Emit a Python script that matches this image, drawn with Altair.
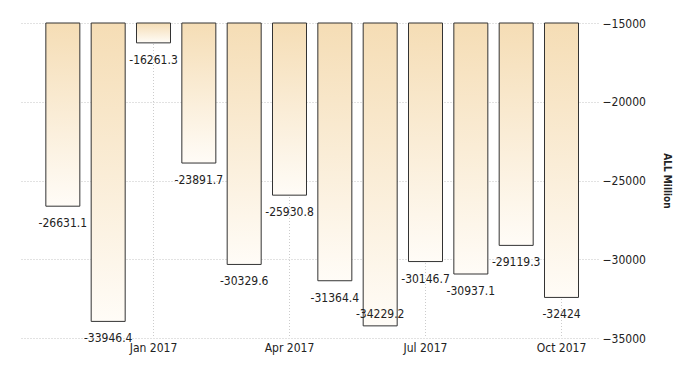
import altair as alt
import pandas as pd

months = ["Nov 2016", "Dec 2016", "Jan 2017", "Feb 2017", "Mar 2017", "Apr 2017",
          "May 2017", "Jun 2017", "Jul 2017", "Aug 2017", "Sep 2017", "Oct 2017"]
values = [-26631.1, -33946.4, -16261.3, -23891.7, -30329.6, -25930.8,
          -31364.4, -34229.2, -30146.7, -30937.1, -29119.3, -32424]
shown_labels = ["Jan 2017", "Apr 2017", "Jul 2017", "Oct 2017"]
y_ticks = [-15000, -20000, -25000, -30000, -35000]

df = pd.DataFrame({"month": months, "value": values})
df["label"] = [("%g" % v) if v != int(v) else str(int(v)) for v in values]
df["base"] = -15000
grid_df = pd.DataFrame({"month": shown_labels})

FONT = "Liberation Sans Narrow, DejaVu Sans Condensed, Liberation Sans, sans-serif"

xscale = alt.Scale(domain=months, paddingInner=0.25, paddingOuter=0.5, align=0.57)
yscale = alt.Scale(domain=[-35000, -15000], nice=False)

label_expr = "indexof(" + str(shown_labels) + ", datum.label) >= 0 ? datum.label : ''"

x_axis = alt.Axis(title=None, labelExpr=label_expr, ticks=False, domain=False,
                  grid=False, labelAngle=0, labelPadding=4, labelFont=FONT,
                  labelFontSize=12, labelColor="#222")
y_axis = alt.Axis(orient="right", title="ALL Million", values=y_ticks, format="d",
                  ticks=False, domain=False, grid=True, gridDash=[1, 2],
                  gridColor="#c4c4c4", labelPadding=4, labelFont=FONT,
                  labelFontSize=12, labelColor="#222",
                  titleFont=FONT, titleFontSize=10, titleFontWeight="bold",
                  titleColor="#222", titlePadding=16)

vgrid = alt.Chart(grid_df).mark_rule(color="#cccccc", strokeDash=[1, 2]).encode(
    x=alt.X("month:N", scale=xscale, axis=x_axis),
)

bars = alt.Chart(df).mark_bar(
    stroke="#333333", strokeWidth=1,
    color=alt.Gradient(gradient="linear",
                       stops=[alt.GradientStop(color="#f5ddb5", offset=0),
                              alt.GradientStop(color="#fffcf7", offset=1)],
                       x1=0, y1=0, x2=0, y2=1),
).encode(
    x=alt.X("month:N", scale=xscale, axis=x_axis),
    y=alt.Y("value:Q", scale=yscale, axis=y_axis),
    y2="base:Q",
)

text_below = alt.Chart(df).transform_filter("datum.value > -34000").mark_text(
    dy=17, font=FONT, fontSize=12, color="#222").encode(
    x=alt.X("month:N", scale=xscale),
    y=alt.Y("value:Q", scale=yscale),
    text="label:N",
)
text_inside = alt.Chart(df).transform_filter("datum.value <= -34000").mark_text(
    dy=-12, font=FONT, fontSize=12, color="#222").encode(
    x=alt.X("month:N", scale=xscale),
    y=alt.Y("value:Q", scale=yscale),
    text="label:N",
)

chart = alt.layer(vgrid, bars, text_below, text_inside).properties(
    width=578, height=315,
    padding={"left": 12, "top": 9, "right": 5, "bottom": 5},
    background="white",
).configure_view(stroke=None)

chart.save("out.html", embed_options={"renderer": "svg", "actions": False})
